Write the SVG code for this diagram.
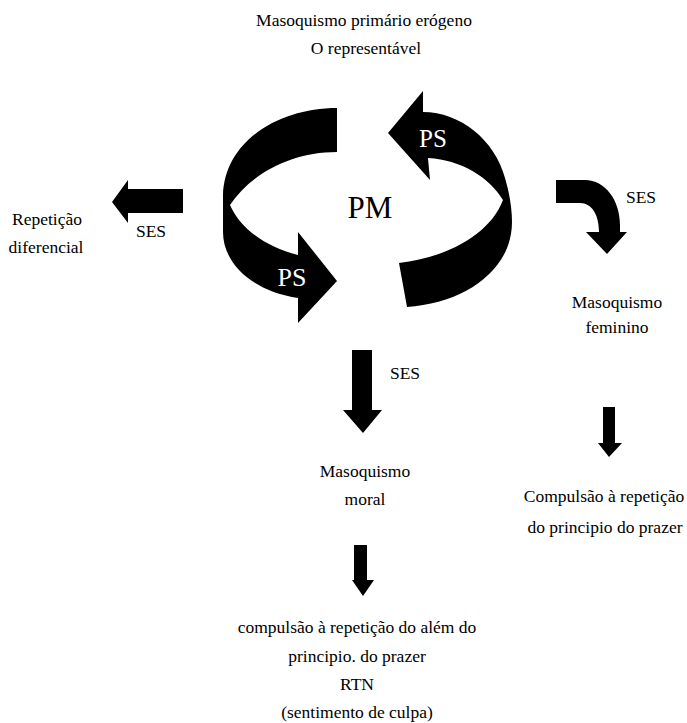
<svg xmlns="http://www.w3.org/2000/svg" width="687" height="723" viewBox="0 0 687 723">
<style>
text{font-family:'Liberation Serif','Times New Roman',Times,serif}
.t{font-size:17.5px;fill:#000;text-anchor:middle}
.big{text-anchor:middle}
.ar{fill:#000;stroke:none}
</style>
<rect width="687" height="723" fill="#fff"/>
<g id="connectors">
<path id="cycle-left" class="ar" d="M337,108 C280,108 225,140 223,195 L223,232 C223,265 255,292 298,298 L298,323 L337,281 L298,232 L298,255 C265,247 240,228 230,205 C250,175 290,152 337,152 Z"/>
<path id="cycle-right" class="ar" d="M388,133 L423,91 L423,112 C460,112 495,140 505,178 C510,195 512,210 512,222 C512,270 465,303 407,307 L399,263 C445,258 490,235 503,200 C490,178 462,160 428,158 L430,180 Z"/>
<path id="arrow-left" class="ar" d="M183,189 L128,189 L128,180 L112,202 L128,223 L128,213 L183,213 Z"/>
<path id="arrow-curved" class="ar" d="M556,180 L585,180 C605,180 620,200 620,225 L620,232 L627,232 L607,254 L586,232 L599,232 C599,215 592,203 580,203 L556,203 Z"/>
<path id="arrow-mid" class="ar" d="M352,350 L372,350 L372,410 L382,410 L363,433 L343,410 L352,410 Z"/>
<path id="arrow-right" class="ar" d="M603,407 L615,407 L615,443 L622,443 L609,457 L598,443 L603,443 Z"/>
<path id="arrow-bottom" class="ar" d="M354,545 L367,545 L367,580 L374,580 L363,596 L352,580 L354,580 Z"/>
</g>
<g id="label-ps-top"><text class="big" x="433" y="147" font-family="Liberation Serif, serif" font-size="25" fill="#fff">PS</text></g>
<g id="label-ps-bottom"><text class="big" x="292" y="286" font-family="Liberation Serif, serif" font-size="26" fill="#fff">PS</text></g>
<g id="node-pm"><text class="big" x="370" y="218" font-family="Liberation Serif, serif" font-size="31" fill="#000">PM</text></g>
<g font-family="Liberation Serif, serif">
<g id="node-primario">
<text class="t" x="364" y="26" font-family="Liberation Serif, serif">Masoquismo primário erógeno</text>
<text class="t" x="366" y="54" font-family="Liberation Serif, serif">O representável</text>
</g>
<g id="node-repeticao">
<text class="t" x="47" y="225" font-family="Liberation Serif, serif">Repetição</text>
<text class="t" x="46" y="253" font-family="Liberation Serif, serif">diferencial</text>
</g>
<g id="label-ses-left"><text class="t" x="151" y="237" font-family="Liberation Serif, serif">SES</text></g>
<g id="label-ses-right"><text class="t" x="641" y="203" font-family="Liberation Serif, serif">SES</text></g>
<g id="label-ses-mid"><text class="t" x="405" y="379" font-family="Liberation Serif, serif">SES</text></g>
<g id="node-feminino">
<text class="t" x="617" y="308" font-family="Liberation Serif, serif">Masoquismo</text>
<text class="t" x="617" y="333" font-family="Liberation Serif, serif">feminino</text>
</g>
<g id="node-moral">
<text class="t" x="365" y="477" font-family="Liberation Serif, serif">Masoquismo</text>
<text class="t" x="365" y="505" font-family="Liberation Serif, serif">moral</text>
</g>
<g id="node-compulsao-prazer">
<text class="t" x="604" y="502" font-family="Liberation Serif, serif">Compulsão à repetição</text>
<text class="t" x="605" y="533" font-family="Liberation Serif, serif">do principio do prazer</text>
</g>
<g id="node-compulsao-alem">
<text class="t" x="357" y="633" font-family="Liberation Serif, serif">compulsão à repetição do além do</text>
<text class="t" x="357" y="662" font-family="Liberation Serif, serif">principio. do prazer</text>
<text class="t" x="357" y="690" font-family="Liberation Serif, serif">RTN</text>
<text class="t" x="357" y="718" font-family="Liberation Serif, serif">(sentimento de culpa)</text>
</g>
</g>
</svg>
